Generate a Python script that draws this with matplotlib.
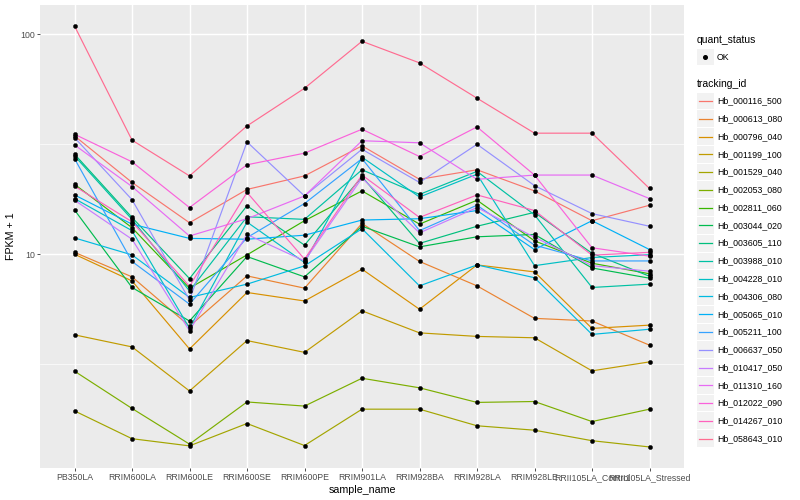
import matplotlib
matplotlib.use('Agg')
import matplotlib.pyplot as plt
from matplotlib.patches import Rectangle
from matplotlib.lines import Line2D
from matplotlib.ticker import FixedLocator, NullFormatter

plt.rcParams['font.family'] = ['Liberation Sans', 'DejaVu Sans']

samples = ["PB350LA", "RRIM600LA", "RRIM600LE", "RRIM600SE", "RRIM600PE",
           "RRIM901LA", "RRIM928BA", "RRIM928LA", "RRIM928LE",
           "RRII105LA_Control", "RRII105LA_Stressed"]

tracking_ids = ["Hb_000116_500", "Hb_000613_080", "Hb_000796_040", "Hb_001199_100",
                "Hb_001529_040", "Hb_002053_080", "Hb_002811_060", "Hb_003044_020",
                "Hb_003605_110", "Hb_003988_010", "Hb_004228_010", "Hb_004306_080",
                "Hb_005065_010", "Hb_005211_100", "Hb_006637_050", "Hb_010417_050",
                "Hb_011310_160", "Hb_012022_090", "Hb_014267_010", "Hb_058643_010"]

colors = ["#F8766D", "#EA8331", "#D89000", "#C09B00", "#A3A500", "#7CAE00", "#39B600",
          "#00BB4E", "#00BF7D", "#00C1A3", "#00BFC4", "#00BAE0", "#00B0F6", "#35A2FF",
          "#9590FF", "#C77CFF", "#E76BF3", "#FA62DB", "#FF62BC", "#FF6C91"]

hb_000116_500 = [34.5, 21.2, 13.9, 19.7, 22.7, 31.1, 21.9, 24.2, 19.4, 14.2, 16.7]
hb_000613_080 = [10.2, 7.89, 4.71, 7.97, 7.01, 13.8, 9.27, 7.18, 5.11, 4.97, 3.86]
hb_000796_040 = [10.0, 7.56, 3.71, 6.70, 6.13, 8.55, 5.62, 8.94, 8.31, 4.60, 4.76]
hb_001199_100 = [4.30, 3.79, 2.39, 4.05, 3.58, 5.53, 4.39, 4.23, 4.17, 2.95, 3.24]
hb_001529_040 = [1.94, 1.45, 1.345, 1.70, 1.35, 1.975, 1.975, 1.66, 1.585, 1.42, 1.33]
hb_002053_080 = [2.94, 1.99, 1.37, 2.13, 2.04, 2.73, 2.47, 2.12, 2.14, 1.735, 1.975]
hb_002811_060 = [20.8, 13.2, 7.01, 9.93, 14.2, 19.4, 13.7, 17.6, 11.5, 9.1, 8.15]
hb_003044_020 = [15.9, 7.06, 4.97, 9.76, 7.89, 13.4, 10.8, 12.0, 12.3, 8.66, 7.78]
hb_003605_110 = [28.5, 14.7, 7.75, 16.6, 11.0, 22.5, 11.2, 13.4, 15.5, 10.1, 7.94]
hb_003988_010 = [28.0, 14.4, 6.81, 14.8, 14.4, 24.2, 18.7, 23.8, 15.1, 7.06, 7.31]
hb_004228_010 = [17.9, 12.8, 4.61, 14.0, 9.17, 27.6, 18.2, 23.1, 8.87, 9.66, 9.95]
hb_004306_080 = [11.86, 9.93, 6.36, 7.31, 8.85, 13.06, 7.18, 8.94, 7.82, 4.32, 4.56]
hb_005065_010 = [18.6, 13.7, 11.8, 11.7, 12.2, 14.3, 14.5, 15.8, 10.5, 14.2, 10.5]
hb_005211_100 = [27.2, 9.27, 5.93, 11.9, 17.0, 27.2, 12.8, 16.7, 11.0, 9.32, 9.32]
hb_006637_050 = [33.9, 17.7, 6.2, 32.4, 18.4, 30.0, 21.2, 31.6, 20.5, 15.3, 13.4]
hb_010417_050 = [17.6, 11.7, 4.49, 12.3, 9.32, 22.2, 12.5, 16.3, 11.95, 8.87, 8.37]
hb_011310_160 = [31.4, 20.3, 12.1, 14.5, 18.4, 32.8, 32.1, 21.9, 22.9, 22.9, 17.9]
hb_012022_090 = [35.1, 26.3, 16.3, 25.5, 28.8, 37.0, 27.8, 37.9, 22.9, 10.7, 9.8]
hb_014267_010 = [20.4, 14.05, 7.15, 19.1, 9.5, 22.9, 14.7, 18.6, 15.8, 9.9, 10.2]
hb_058643_010 = [109, 33.0, 22.7, 38.3, 56.8, 92.9, 74.1, 51.2, 35.5, 35.5, 19.9]

series = [hb_000116_500, hb_000613_080, hb_000796_040, hb_001199_100, hb_001529_040,
          hb_002053_080, hb_002811_060, hb_003044_020, hb_003605_110, hb_003988_010,
          hb_004228_010, hb_004306_080, hb_005065_010, hb_005211_100, hb_006637_050,
          hb_010417_050, hb_011310_160, hb_012022_090, hb_014267_010, hb_058643_010]

y_major = [10, 100]
y_minor = [10 ** 0.5, 10 ** 1.5]

W, H = 800, 500
fig = plt.figure(figsize=(8, 5), dpi=100)
fig.patch.set_facecolor('white')

def fx(px):
    return px / W

def fy(py):
    return 1 - py / H

ax = fig.add_axes([fx(40), fy(468), fx(684) - fx(40), fy(5) - fy(468)])
ax.set_facecolor('#EBEBEB')
for s in ax.spines.values():
    s.set_visible(False)

ax.set_yscale('log')
ax.set_xlim(-0.6, len(samples) - 0.4)
ax.set_ylim(1.067, 135.8)

x = list(range(len(samples)))
for vals, c in zip(series, colors):
    ax.plot(x, vals, color=c, lw=0.85, zorder=3, solid_capstyle='butt')
for vals in series:
    ax.plot(x, vals, linestyle='none', marker='o', markersize=3.0,
            markerfacecolor='black', markeredgecolor='black', markeredgewidth=0.3, zorder=4)

ax.set_xticks(x)
ax.set_xticklabels(samples)
ax.yaxis.set_major_locator(FixedLocator(y_major))
ax.set_yticklabels([str(v) for v in y_major])
ax.yaxis.set_minor_locator(FixedLocator(y_minor))
ax.yaxis.set_minor_formatter(NullFormatter())

ax.grid(True, which='major', color='white', lw=1.05, zorder=0)
ax.grid(True, which='minor', axis='y', color='white', lw=0.5, zorder=0)
ax.set_axisbelow(True)
ax.tick_params(axis='both', which='major', length=2.2, width=0.6, color='#333333',
               labelsize=6.3, labelcolor='#4D4D4D', pad=1.5)
ax.tick_params(axis='y', which='minor', length=0)

ax.set_xlabel('sample_name', fontsize=7.7, color='black', labelpad=2)
ax.set_ylabel('FPKM + 1', fontsize=7.7, color='black', labelpad=3)

# legend
fs_title = 7.5
fs_lab = 6.3
fig.text(fx(697), fy(40), 'quant_status', fontsize=fs_title, va='center', ha='left')
kw, kh = 16.5, 16.8
fig.patches.append(Rectangle((fx(697), fy(57 + kh / 2)), kw / W, kh / H,
                             transform=fig.transFigure, facecolor='#F2F2F2', edgecolor='none'))
fig.lines.append(Line2D([fx(697 + kw / 2)], [fy(57)], transform=fig.transFigure,
                        marker='o', markersize=2.6, color='black', linestyle='none'))
fig.text(fx(717), fy(57), 'OK', fontsize=fs_lab, va='center', ha='left')

fig.text(fx(697), fy(84), 'tracking_id', fontsize=fs_title, va='center', ha='left')
step = 17.77
for i, (tid, c) in enumerate(zip(tracking_ids, colors)):
    cy = 101 + i * step
    fig.patches.append(Rectangle((fx(697), fy(cy + kh / 2)), kw / W, kh / H,
                                 transform=fig.transFigure, facecolor='#F2F2F2', edgecolor='none'))
    fig.lines.append(Line2D([fx(698.5), fx(697 + kw - 1.5)], [fy(cy), fy(cy)],
                            transform=fig.transFigure, color=c, lw=0.9))
    fig.text(fx(717), fy(cy), tid, fontsize=fs_lab, va='center', ha='left')

fig.savefig('out.png', dpi=100)
